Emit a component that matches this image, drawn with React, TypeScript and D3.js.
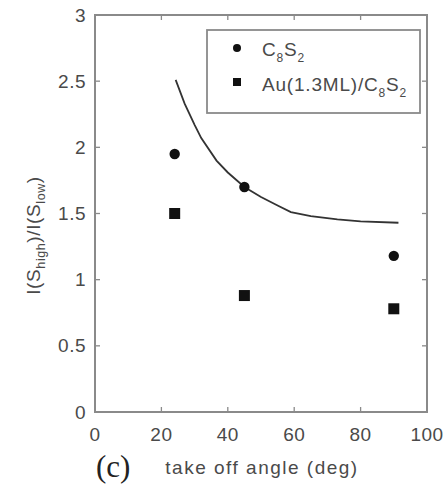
import React from "react";
import * as d3 from "d3";

// Measured intensity ratio vs. take-off angle
const anglesC8S2 = [24, 45, 90];
const ratioC8S2 = [1.95, 1.7, 1.18];
const anglesAu = [24, 45, 90];
const ratioAu = [1.5, 0.88, 0.78];

// Model curve
const curveAngles = [24.3, 27, 30, 32, 36.6, 40, 45, 50, 55, 59, 65, 73, 80, 91.4];
const curveRatio = [2.51, 2.33, 2.17, 2.07, 1.9, 1.81, 1.7, 1.625, 1.56, 1.51, 1.48, 1.455, 1.44, 1.43];

const xTicks = [0, 20, 40, 60, 80, 100];
const yTicks = [0, 0.5, 1, 1.5, 2, 2.5, 3];
const yTickLabels = ["0", "0.5", "1", "1.5", "2", "2.5", "3"];

const W = 448;
const H = 484;
const left = 95;
const right = 427;
const top = 15;
const bottom = 412;
const font = "Liberation Sans, Arial, sans-serif";
const textColor = "#4a4a4a";
const frameColor = "#8a8a8a";

export default function App() {
  const x = d3.scaleLinear().domain([0, 100]).range([left, right]);
  const y = d3.scaleLinear().domain([0, 3]).range([bottom, top]);
  const line = d3
    .line<number>()
    .x((_, i) => x(curveAngles[i]))
    .y((d) => y(d))
    .curve(d3.curveLinear);
  const tickLen = 5;

  return (
    <svg
      width={W}
      height={H}
      style={{ position: "absolute", left: 0, top: 0, background: "#fff" }}
    >
      <rect x={0} y={0} width={W} height={H} fill="#fff" />
      {/* ticks on all four sides, pointing inward */}
      {xTicks.map((t) => (
        <g key={"xt" + t} stroke={frameColor} strokeWidth={1.3}>
          <line x1={x(t)} x2={x(t)} y1={bottom} y2={bottom - tickLen} />
          <line x1={x(t)} x2={x(t)} y1={top} y2={top + tickLen} />
        </g>
      ))}
      {yTicks.map((t) => (
        <g key={"yt" + t} stroke={frameColor} strokeWidth={1.3}>
          <line x1={left} x2={left + tickLen} y1={y(t)} y2={y(t)} />
          <line x1={right} x2={right - tickLen} y1={y(t)} y2={y(t)} />
        </g>
      ))}
      <rect
        x={left}
        y={top}
        width={right - left}
        height={bottom - top}
        fill="none"
        stroke={frameColor}
        strokeWidth={2}
      />
      {/* tick labels */}
      {xTicks.map((t) => (
        <text
          key={"xl" + t}
          x={x(t)}
          y={bottom + 29}
          textAnchor="middle"
          fontFamily={font}
          fontSize={19}
          letterSpacing={0.5}
          fill={textColor}
        >
          {t}
        </text>
      ))}
      {yTicks.map((t, i) => (
        <text
          key={"yl" + t}
          x={left - 9}
          y={y(t) + 6.5}
          textAnchor="end"
          fontFamily={font}
          fontSize={19}
          letterSpacing={0.5}
          fill={textColor}
        >
          {yTickLabels[i]}
        </text>
      ))}
      {/* axis titles */}
      <text
        x={(left + right) / 2 + 1}
        y={bottom + 62}
        textAnchor="middle"
        fontFamily={font}
        fontSize={19}
        letterSpacing={1.5}
        fill={textColor}
      >
        take off angle (deg)
      </text>
      <text
        transform={`translate(40, ${(top + bottom) / 2 + 22}) rotate(-90)`}
        textAnchor="middle"
        fontFamily={font}
        fontSize={19}
        letterSpacing={0.6}
        fill={textColor}
      >
        I(S<tspan fontSize={12.5} dy={5}>high</tspan>
        <tspan dy={-5}>)/I(S</tspan>
        <tspan fontSize={12.5} dy={5}>low</tspan>
        <tspan dy={-5}>)</tspan>
      </text>
      <text x={96} y={477} fontFamily="Liberation Serif, Times New Roman, serif" fontSize={31} fill="#222">
        (c)
      </text>
      {/* model curve */}
      <path d={line(curveRatio) ?? ""} fill="none" stroke="#333" strokeWidth={1.8} />
      {/* data */}
      {anglesC8S2.map((a, i) => (
        <circle key={"c" + i} cx={x(a)} cy={y(ratioC8S2[i])} r={5.2} fill="#111" />
      ))}
      {anglesAu.map((a, i) => (
        <rect
          key={"s" + i}
          x={x(anglesAu[i]) - 5.5}
          y={y(ratioAu[i]) - 5.5}
          width={11}
          height={11}
          fill="#111"
        />
      ))}
      {/* legend */}
      <rect x={207} y={30} width={213} height={83} fill="#fff" stroke={frameColor} strokeWidth={1.8} />
      <circle cx={237} cy={48} r={4} fill="#111" />
      <rect x={233} y={78} width={8} height={8} fill="#111" />
      <text x={262} y={56} fontFamily={font} fontSize={19} letterSpacing={0.8} fill={textColor}>
        C<tspan fontSize={12} dy={6}>8</tspan>
        <tspan dy={-6}>S</tspan>
        <tspan fontSize={12} dy={6}>2</tspan>
      </text>
      <text x={262} y={91} fontFamily={font} fontSize={19} letterSpacing={0.8} fill={textColor}>
        Au(1.3ML)/C<tspan fontSize={12} dy={6}>8</tspan>
        <tspan dy={-6}>S</tspan>
        <tspan fontSize={12} dy={6}>2</tspan>
      </text>
    </svg>
  );
}
